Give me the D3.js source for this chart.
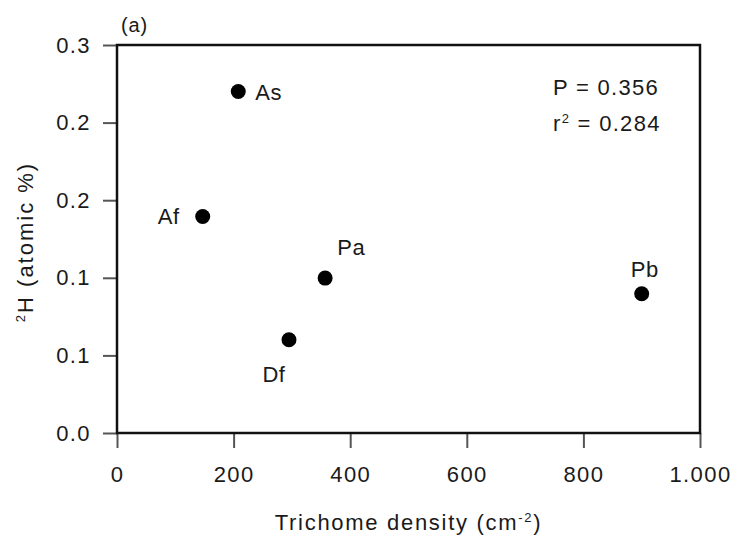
<!DOCTYPE html>
<html>
<head>
<meta charset="utf-8">
<script src="https://cdn.jsdelivr.net/npm/d3@7"></script>
<style>
  html, body { margin: 0; padding: 0; background: #fff; }
  svg { display: block; font-family: "Liberation Sans", Arial, Helvetica, sans-serif; }
</style>
</head>
<body>
<div id="chart"></div>
<script>
// Species codes, trichome density (cm^-2) and 2H enrichment (atomic %)
const sites = ["As", "Af", "Pa", "Df", "Pb"];
const density = [208, 147, 357, 295, 900];
const deuterium = [0.220, 0.1395, 0.0998, 0.0601, 0.0897];

// Axis ticks and the labels printed at them
const xTicks = [0, 200, 400, 600, 800, 1000];
const xTickLabels = ["0", "200", "400", "600", "800", "1.000"];
const yTicks = [0, 0.05, 0.1, 0.15, 0.2, 0.25];
const yTickLabels = ["0.0", "0.1", "0.1", "0.2", "0.2", "0.3"];

// Regression summary
const statLines = ["P = 0.356", "= 0.284"];

// Where each point's name sits relative to its dot
const labelPlacement = {
  As: { dx: 17, dy: 8, anchor: "start" },
  Af: { dx: -23, dy: 8, anchor: "end" },
  Pa: { dx: 12, dy: -23, anchor: "start" },
  Df: { dx: -15, dy: 42, anchor: "middle" },
  Pb: { dx: 3, dy: -17, anchor: "middle" }
};

const W = 736, H = 543;
const margin = { left: 117, right: 36, top: 45, bottom: 110 };

const svg = d3.select("#chart").append("svg")
  .attr("width", W).attr("height", H);

const x = d3.scaleLinear().domain([0, 1000]).range([margin.left, W - margin.right]);
const y = d3.scaleLinear().domain([0, 0.25]).range([H - margin.bottom, margin.top]);

const ink = "#111";
const tickInk = "#555";

// Bottom axis
const xAxis = d3.axisBottom(x)
  .tickValues(xTicks)
  .tickFormat((d, i) => xTickLabels[i])
  .tickSizeInner(15).tickSizeOuter(0).tickPadding(18);
const gx = svg.append("g")
  .attr("transform", `translate(0,${y(0)})`)
  .call(xAxis);
gx.select(".domain").remove();
gx.selectAll(".tick line").attr("stroke", tickInk).attr("stroke-width", 2);
gx.selectAll(".tick text")
  .attr("fill", "#1a1a1a")
  .style("font-size", "22px")
  .style("letter-spacing", "1.4px");

// Left axis
const yAxis = d3.axisLeft(y)
  .tickValues(yTicks)
  .tickFormat((d, i) => yTickLabels[i])
  .tickSizeInner(14).tickSizeOuter(0).tickPadding(12);
const gy = svg.append("g")
  .attr("transform", `translate(${x(0)},0)`)
  .call(yAxis);
gy.select(".domain").remove();
gy.selectAll(".tick line").attr("stroke", tickInk).attr("stroke-width", 2);
gy.selectAll(".tick text")
  .attr("fill", "#1a1a1a")
  .style("font-size", "22px")
  .style("letter-spacing", "1.4px");

// Plot frame
svg.append("rect")
  .attr("x", x(0)).attr("y", y(0.25))
  .attr("width", x(1000) - x(0)).attr("height", y(0) - y(0.25))
  .attr("fill", "none").attr("stroke", ink).attr("stroke-width", 2.5);

// Points
svg.append("g").selectAll("circle")
  .data(sites)
  .join("circle")
  .attr("cx", (d, i) => x(density[i]))
  .attr("cy", (d, i) => y(deuterium[i]))
  .attr("r", 7.5)
  .attr("fill", "#000");

// Point names
svg.append("g").selectAll("text")
  .data(sites)
  .join("text")
  .attr("x", (d, i) => x(density[i]) + labelPlacement[d].dx)
  .attr("y", (d, i) => y(deuterium[i]) + labelPlacement[d].dy)
  .attr("text-anchor", d => labelPlacement[d].anchor)
  .attr("fill", "#1a1a1a")
  .style("font-size", "22px")
  .style("letter-spacing", "0.6px")
  .text(d => d);

// Regression statistics
const stats = svg.append("g").attr("fill", "#1a1a1a")
  .style("font-size", "22px").style("letter-spacing", "1.3px");
stats.append("text").attr("x", 553).attr("y", 95).text(statLines[0]);
const r2 = stats.append("text").attr("x", 553).attr("y", 131);
r2.append("tspan").text("r");
r2.append("tspan").attr("dy", -8).style("font-size", "13px").text("2");
r2.append("tspan").attr("dy", 8).text(" " + statLines[1]);

// Panel tag
svg.append("text")
  .attr("x", 121).attr("y", 32)
  .attr("fill", "#1a1a1a")
  .style("font-size", "20px")
  .style("letter-spacing", "0.8px")
  .text("(a)");

// Axis titles
const xt = svg.append("text")
  .attr("x", (x(0) + x(1000)) / 2).attr("y", 530)
  .attr("text-anchor", "middle")
  .attr("fill", "#1a1a1a")
  .style("font-size", "22px")
  .style("letter-spacing", "1.7px");
xt.append("tspan").text("Trichome density (cm");
xt.append("tspan").attr("dy", -8).style("font-size", "13px").text("-2");
xt.append("tspan").attr("dy", 8).text(")");

const yt = svg.append("text")
  .attr("transform", `translate(33,${(y(0) + y(0.25)) / 2 + 3}) rotate(-90)`)
  .attr("text-anchor", "middle")
  .attr("fill", "#1a1a1a")
  .style("font-size", "22px")
  .style("letter-spacing", "2px");
yt.append("tspan").attr("dy", -8).style("font-size", "13px").text("2");
yt.append("tspan").attr("dy", 8).text("H (atomic %)");
</script>
</body>
</html>
